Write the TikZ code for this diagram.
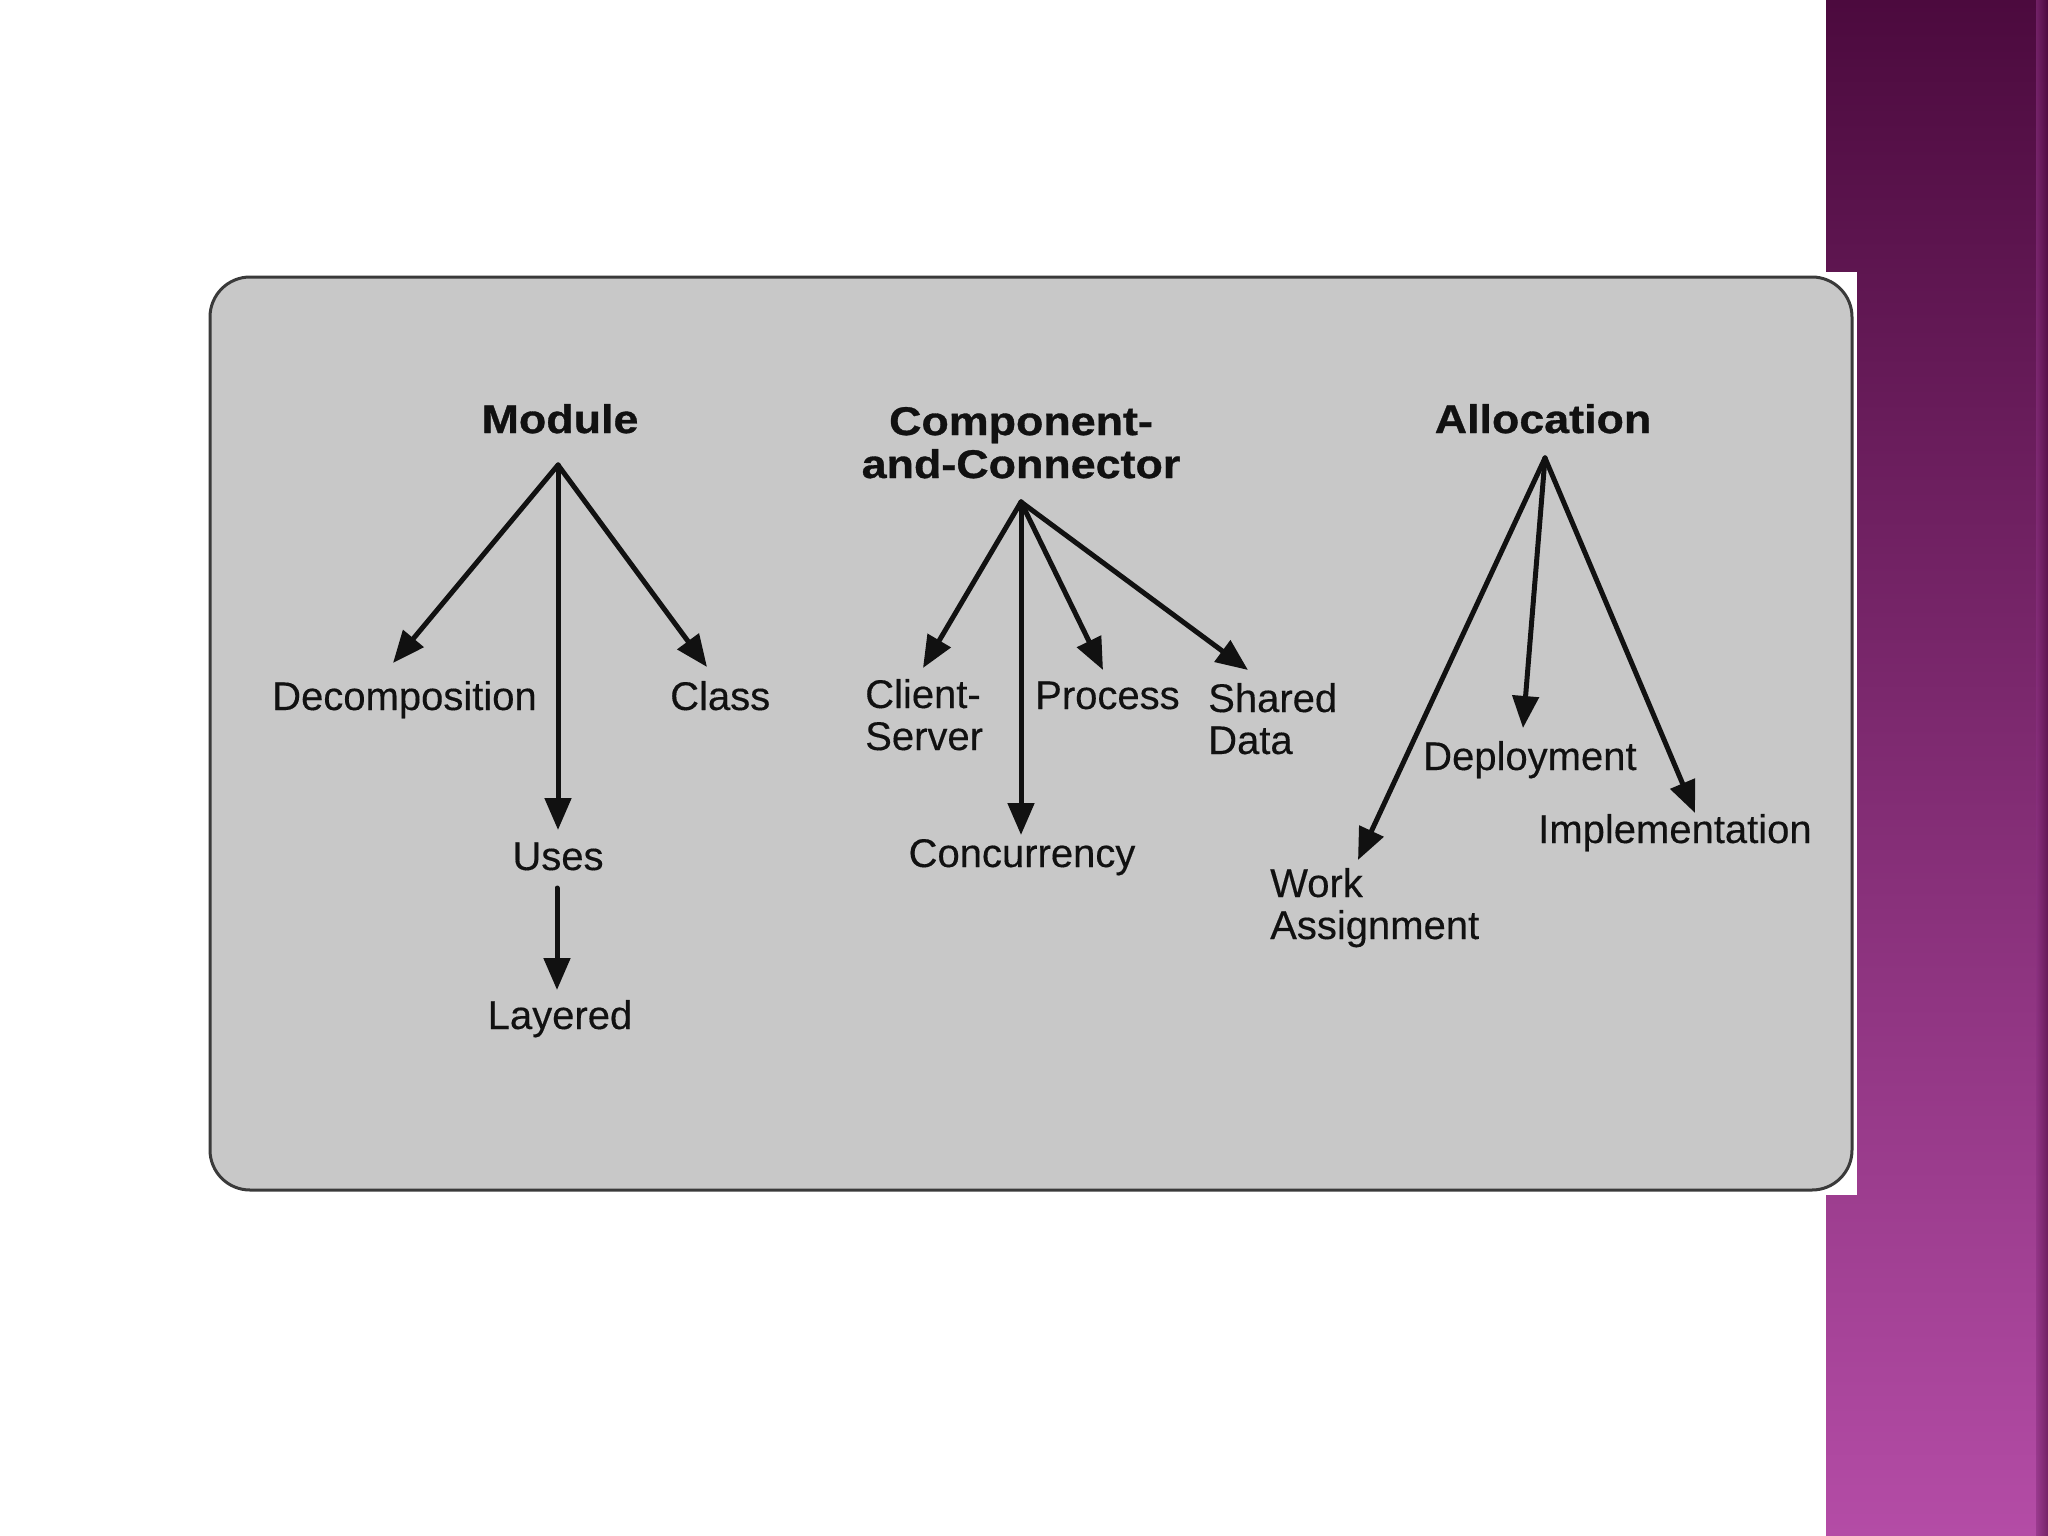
\documentclass[tikz,border=0pt]{standalone}
\usepackage{fontspec}
\setmainfont{Liberation Sans}
\newfontfamily\hbold[FakeStretch=1.12,FakeBold=0.8]{Liberation Sans}
\newfontfamily\hreg[FakeBold=0.3]{Liberation Sans}
\usetikzlibrary{arrows.meta}
\definecolor{boxgray}{HTML}{C8C8C8}
\definecolor{boxline}{HTML}{3A3A3A}
\definecolor{ptop}{HTML}{4C0A3E}
\definecolor{pmid}{HTML}{8A3080}
\definecolor{pbot}{HTML}{B44CA6}
\definecolor{ink}{HTML}{111111}
\tikzset{
  lbl/.style={font=\hreg\fontsize{40}{42}\selectfont, inner sep=0pt, text=ink},
  hd/.style={font=\hbold\bfseries\fontsize{40}{43}\selectfont, inner sep=0pt, text=ink},
  arr/.style={draw=ink, line width=5pt, line cap=round, -{Triangle[length=32pt,width=26pt]}}
}
\begin{document}
\begin{tikzpicture}[x=1pt,y=-1pt]
\useasboundingbox (0,0) rectangle (2048,1536);
\fill[white] (0,0) rectangle (2048,1536);
% purple side bar
\shade[top color=ptop, middle color=pmid, bottom color=pbot] (1826,0) rectangle (2048,1536);
\shade[left color=pmid, right color=ptop, opacity=0.6] (2036,0) rectangle (2048,1536);
% white backing and gray panel
\fill[white] (204,272) rectangle (1857,1195);
\draw[fill=boxgray, draw=boxline, line width=3pt, rounded corners=40pt] (210,277) rectangle (1852,1190);

% headings
\node[hd, anchor=base] (module) at (560,433) {Module};
\node[hd, anchor=base] (cc) at (1021,435) {\begin{tabular}[t]{@{}c@{}}Component-\\and-Connector\end{tabular}};
\node[hd, anchor=base] (alloc) at (1543,433) {Allocation};

% module children
\node[lbl, anchor=base west] (decomp) at (272,710) {Decomposition};
\node[lbl, anchor=base west] (class) at (670,710) {Class};
\node[lbl, anchor=base] (uses) at (558,870) {Uses};
\node[lbl, anchor=base] (layered) at (560,1029) {Layered};

% C&C children
\node[lbl, anchor=base west] (client) at (865,708) {\begin{tabular}[t]{@{}l@{}}Client-\\Server\end{tabular}};
\node[lbl, anchor=base west] (process) at (1035,709) {Process};
\node[lbl, anchor=base west] (shared) at (1208,712) {\begin{tabular}[t]{@{}l@{}}Shared\\Data\end{tabular}};
\node[lbl, anchor=base] (concur) at (1022,867) {Concurrency};

% allocation children
\node[lbl, anchor=base west] (deploy) at (1423,770) {Deployment};
\node[lbl, anchor=base west] (impl) at (1538,843) {Implementation};
\node[lbl, anchor=base west] (work) at (1270,897) {\begin{tabular}[t]{@{}l@{}}Work\\Assignment\end{tabular}};

% connector points
\coordinate (mA) at (558,465);
\coordinate (tDecomp) at (393,663);
\coordinate (tUses) at (558,830);
\coordinate (tClass) at (707,667);
\coordinate (sUses) at (557,888);
\coordinate (tLayered) at (557,990);
\coordinate (cA) at (1021,502);
\coordinate (tClient) at (923,668);
\coordinate (tConcur) at (1021,835);
\coordinate (tProcess) at (1103,670);
\coordinate (tShared) at (1248,670);
\coordinate (aA) at (1545,458);
\coordinate (tWork) at (1358,860);
\coordinate (tDeploy) at (1523,728);
\coordinate (tImpl) at (1695,813);

% arrows
\draw[arr] (mA) -- (tDecomp);
\draw[arr] (mA) -- (tUses);
\draw[arr] (mA) -- (tClass);
\draw[arr] (sUses) -- (tLayered);
\draw[arr] (cA) -- (tClient);
\draw[arr] (cA) -- (tConcur);
\draw[arr] (cA) -- (tProcess);
\draw[arr] (cA) -- (tShared);
\draw[arr] (aA) -- (tWork);
\draw[arr] (aA) -- (tDeploy);
\draw[arr] (aA) -- (tImpl);
\end{tikzpicture}
\end{document}
